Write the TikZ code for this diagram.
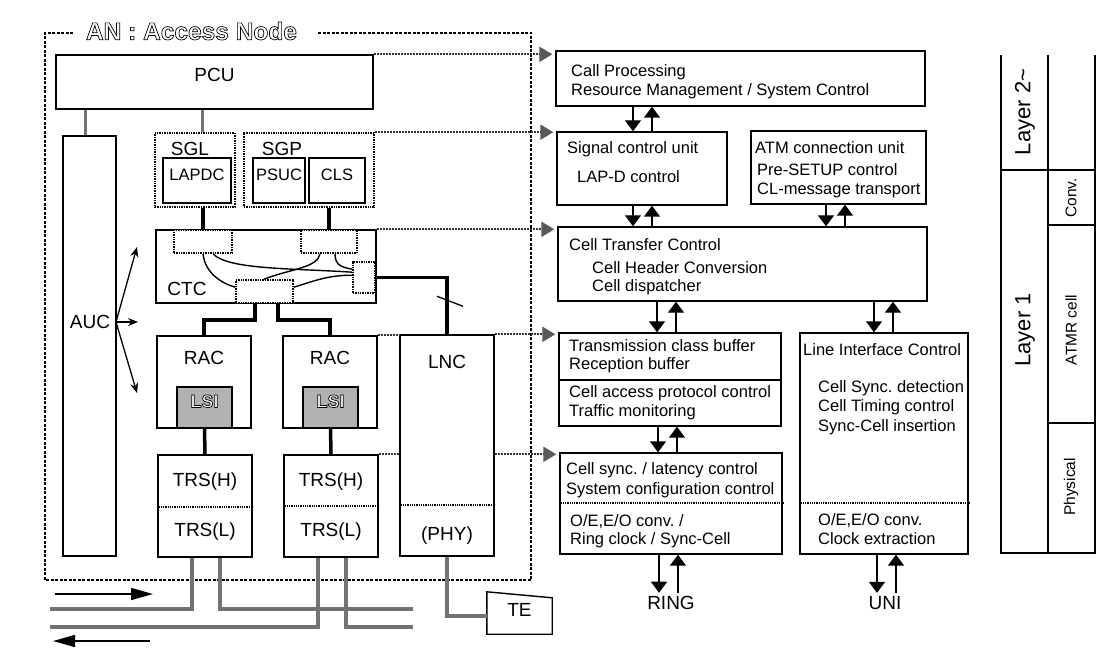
\documentclass[tikz,border=0pt]{standalone}
\usepackage{fontspec}
\setmainfont{Liberation Sans}
\usetikzlibrary{arrows.meta,fit}

\newcommand\hollow[1]{\special{pdf:literal direct 2 Tr 0.7 w 1 g}#1\special{pdf:literal direct 0 Tr 0 g}}

\begin{document}
\frenchspacing
\begin{tikzpicture}[x=1pt,y=-1pt,
  every node/.style={font=\fontsize{19}{22}\selectfont},
  box/.style={draw,line width=1.4pt,inner sep=0pt},
  dotbox/.style={draw,line width=1.6pt,dash pattern=on 1pt off 0.7pt,inner sep=0pt},
  ln/.style={line width=1.4pt},
  sep/.style={line width=1.4pt,dash pattern=on 1pt off 0.8pt},
  txt/.style={font=\fontsize{16.5}{19}\selectfont,anchor=west,inner sep=0pt},
  small/.style={font=\fontsize{16.5}{19}\selectfont},
  thk/.style={line width=3.5pt},
  lnk/.style={line width=3pt,black!55},
  bus/.style={line width=4.5pt,black!55},
  cv/.style={line width=1.4pt},
  info/.style={line width=2.2pt,black!80,dash pattern=on 2pt off 1pt},
  infoarr/.style={info,shorten >=3pt,-{Triangle[length=13pt,width=15pt,color=black!65]}},
  dn/.style={line width=1.4pt,-{Triangle[length=11pt,width=16pt]}},
  auca/.style={line width=1.3pt,-{Stealth[length=10pt,width=8pt]}},
  flow/.style={line width=1.6pt,-{Triangle[length=22pt,width=12pt]}}]
\useasboundingbox (0,0) rectangle (1113,660);

% AN : Access Node frame
\draw[line width=1.3pt,dash pattern=on 3pt off 1.5pt] (73,33) -| (45,580) -| (531,33) -- (318,33);
\node[font=\bfseries\fontsize{24.5}{28}\selectfont] (an) at (191.5,31) {\hollow{AN : Access Node}};

% left side units
\node[box,fit={(56,55) (373,109)}] (pcu) {PCU};
\node[box,fit={(63,136) (116,556)}] (auc) {};
\node (auct) at (90,322) {AUC};

\node[dotbox,fit={(155,133) (235,207)}] (sgl) {};
\node (sglt) at (190,149) {SGL};
\node[box,small,fit={(163,158) (231,203)}] (lapdc) {LAPDC};
\node[dotbox,fit={(244,133) (374,207)}] (sgp) {};
\node (sgpt) at (282,149) {SGP};
\node[box,small,fit={(253,158) (305,203)}] (psuc) {PSUC};
\node[box,small,fit={(309,158) (365,203)}] (cls) {CLS};

\node[box,fit={(156,230) (376,303)}] (ctc) {};
\node (ctct) at (187,289) {CTC};
\node[dotbox,fill=white,fit={(174,230) (232,253)}] (ctcl) {};
\node[dotbox,fill=white,fit={(301,230) (357,253)}] (ctcr) {};
\node[dotbox,fill=white,fit={(353,262) (375,293)}] (ctcs) {};
\node[dotbox,fill=white,fit={(236,280) (293,303)}] (ctcb) {};

\node[box,fit={(157,336) (251,428)}] (rac1) {};
\node (rac1t) at (204,358) {RAC};
\node[box,fill=black!30,fit={(177,387) (232,428)},font=\bfseries\fontsize{18}{20}\selectfont] (lsi1) {\hollow{LSI}};
\node[box,fit={(283,336) (377,428)}] (rac2) {};
\node (rac2t) at (330,358) {RAC};
\node[box,fill=black!30,fit={(303,387) (358,428)},font=\bfseries\fontsize{18}{20}\selectfont] (lsi2) {\hollow{LSI}};

\node[box,fit={(158,455) (252,557)}] (trs1) {};
\node (trs1h) at (205,482) {TRS(H)};
\node (trs1l) at (205,532) {TRS(L)};
\draw[sep] (trs1.west |- 0,507) -- (trs1.east |- 0,507);
\node[box,fit={(284,455) (378,557)}] (trs2) {};
\node (trs2h) at (331,482) {TRS(H)};
\node (trs2l) at (331,532) {TRS(L)};
\draw[sep] (trs2.west |- 0,506) -- (trs2.east |- 0,506);

\node[box,fit={(400,335) (494,556)}] (lnc) {};
\node (lnct) at (447,362) {LNC};
\node (phy) at (447,536) {(PHY)};
\draw[sep] (lnc.west |- 0,505) -- (lnc.east |- 0,505);

\node[inner sep=0pt,fit={(487,598) (552,634)}] (te) {TE};
\draw[ln] ([yshift=6pt]te.north west) -- (te.north east) -- (te.south east) -- (te.south west) -- cycle;

% links inside the access node
\draw[lnk] (auc.north -| 85,0) -- (pcu.south -| 85,0);
\draw[lnk] ([xshift=7pt]sgl.north) -- ([xshift=7pt]sgl.north |- pcu.south);
\draw[thk] (ctcl.north |- sgl.south) -- (ctcl.north);
\draw[thk] (ctcr.north |- sgp.south) -- (ctcr.north);
\draw[thk] ([xshift=-9.5pt]ctcb.south) -- ++(0,16) -| (rac1.north);
\draw[thk] ([xshift=13.5pt]ctcb.south) -- ++(0,16) -| (rac2.north);
\draw[thk] (ctcs.east) -| (lnc.north);
\draw[line width=1.3pt] ([shift={(-10,-38)}]lnc.north) -- ++(26,10);
\draw[thk] (lsi1.south) -- (trs1.north);
\draw[thk] (lsi2.south) -- (trs2.north);

\draw[cv] (ctcl.south) .. controls +(2,19) and +(-14,-4) .. ([yshift=-8pt]ctcb.north west);
\draw[cv] ([xshift=10pt]ctcl.south) .. controls +(15,16) and +(-60,-4) .. ([yshift=-11pt]ctcs.north west);
\draw[cv] ([xshift=-9pt]ctcr.south) .. controls +(-2,14) and +(25,-10) .. ([xshift=29pt]ctcb.north west);
\draw[cv] ([xshift=6pt]ctcr.south) .. controls +(0,12) and +(-10,-2) .. ([yshift=-8pt]ctcs.north west);
\draw[cv] ([yshift=-8pt]ctcb.north east) .. controls +(20,-6) and +(-25,0) .. ([yshift=-14pt]ctcs.north west);

\coordinate (aucs) at (116,322);
\draw[auca] (aucs) -- ++(21,-75);
\draw[auca] (aucs) -- ++(22,0);
\draw[auca] (aucs) -- ++(21,71);

% ring bus and terminal
\coordinate (upw) at (50,609);
\coordinate (upe) at (413,609);
\coordinate (dnw) at (50,627);
\coordinate (dne) at (413,627);
\draw[bus] ([xshift=-13pt]trs1.south) |- (upw);
\draw[bus] ([xshift=15pt]trs1.south) |- (upe);
\draw[bus] ([xshift=-13pt]trs2.south) |- (dnw);
\draw[bus] ([xshift=15pt]trs2.south) |- (dne);
\draw[bus] (lnc.south) |- (te.west);
\coordinate (txa) at (55,594);
\coordinate (txb) at (153,594);
\coordinate (rxa) at (150,641);
\coordinate (rxb) at (53,641);
\draw[flow] (txa) -- (txb);
\draw[flow] (rxa) -- (rxb);

% functions (right column)
\node[box,fit={(556,51) (925,106)}] (cp) {};
\node[txt] (cp1) at (571,72) {Call Processing};
\node[txt] (cp2) at (571,91) {Resource Management / System Control};
\node[box,fit={(557,132) (727,205)}] (scu) {};
\node[txt] (scu1) at (567,149) {Signal control unit};
\node[txt] (scu2) at (577,177) {LAP-D control};
\node[box,fit={(751,131) (926,204)}] (acu) {};
\node[txt] (acu1) at (755,148) {ATM connection unit};
\node[txt] (acu2) at (757,170) {Pre-SETUP control};
\node[txt] (acu3) at (757,190) {CL-message transport};
\node[box,fit={(558,227) (927,301)}] (ctl) {};
\node[txt] (ctl1) at (569,245) {Cell Transfer Control};
\node[txt] (ctl2) at (592,268) {Cell Header Conversion};
\node[txt] (ctl3) at (592,287) {Cell dispatcher};
\node[box,fit={(559,333) (781,426)}] (tcb) {};
\draw[ln] (tcb.west |- 0,380) -- (tcb.east |- 0,380);
\node[txt] (tcb1) at (569,346) {Transmission class buffer};
\node[txt] (tcb2) at (569,365) {Reception buffer};
\node[txt] (tcb3) at (569,393) {Cell access protocol control};
\node[txt] (tcb4) at (569,412) {Traffic monitoring};
\node[box,fit={(560,453) (782,554)}] (csy) {};
\draw[sep] (csy.west |- 0,503) -- (csy.east |- 0,503);
\node[txt] (csy1) at (566,470) {Cell sync. / latency control};
\node[txt] (csy2) at (566,490) {System configuration control};
\node[txt] (csy3) at (570,522) {O/E,E/O conv. /};
\node[txt] (csy4) at (570,540) {Ring clock / Sync-Cell};
\node[box,fit={(800,333) (968,554)}] (lic) {};
\draw[sep] (lic.west |- 0,503) -- (lic.east |- 0,503);
\node[txt] (lic1) at (803,350) {Line Interface Control};
\node[txt] (lic2) at (818,388) {Cell Sync. detection};
\node[txt] (lic3) at (818,407) {Cell Timing control};
\node[txt] (lic4) at (818,427) {Sync-Cell insertion};
\node[txt] (lic5) at (818,521) {O/E,E/O conv.};
\node[txt] (lic6) at (818,539) {Clock extraction};
\node (ring) at (671,603) {RING};
\node (uni) at (885,603) {UNI};

\foreach \a/\b/\x in {cp/scu/633, scu/ctl/633, acu/ctl/826, ctl/tcb/657, ctl/lic/874, tcb/csy/658, csy/ring/659, lic/uni/877}{
  \draw[dn] (\x,0 |- \a.south) -- (\x,0 |- \b.north);
  \draw[dn] (\x+19,0 |- \b.north) -- (\x+19,0 |- \a.south);
}

% mapping of units to functions
\draw[infoarr] (pcu.north east) -- (pcu.north east -| cp.west);
\draw[infoarr] (sgp.north east) -- (sgp.north east -| scu.west);
\draw[infoarr] (ctc.north east) -- (ctc.north east -| ctl.west);
\draw[info] (rac2.north east) -- (rac2.north east -| lnc.west);
\draw[infoarr] (lnc.north east) -- (lnc.north east -| tcb.west);
\draw[info] (trs2.north east) -- (trs2.north east -| lnc.west);
\draw[infoarr] (trs2.north east -| lnc.east) -- (trs2.north east -| csy.west);

% layer table
\draw[ln] (1001,55) -- (1001,553) -- (1095,553) -- (1095,55);
\draw[ln] (1048,55) -- (1048,553);
\draw[ln] (1001,170) -- (1095,170);
\draw[ln] (1048,225) -- (1095,225);
\draw[ln] (1048,423) -- (1095,423);
\node[rotate=90,font=\fontsize{22}{24}\selectfont] (l2) at (1025,112) {Layer 2\textasciitilde};
\node[rotate=90,font=\fontsize{22}{24}\selectfont] (l1) at (1025,330) {Layer 1};
\node[rotate=90,font=\fontsize{15.5}{18}\selectfont] (conv) at (1071,198) {Conv.};
\node[rotate=90,font=\fontsize{15.5}{18}\selectfont] (atmr) at (1071,330) {ATMR cell};
\node[rotate=90,font=\fontsize{15.5}{18}\selectfont] (phys) at (1071,487) {Physical};
\end{tikzpicture}
\end{document}
